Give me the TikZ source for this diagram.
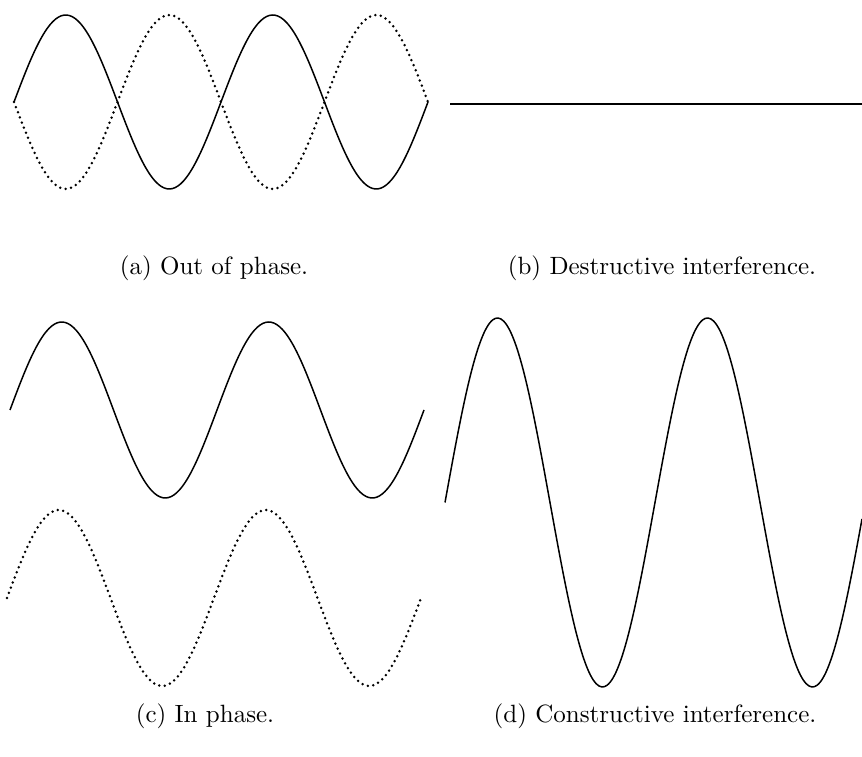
\documentclass[tikz,border=0pt]{standalone}
\usepackage{tikz}
\usetikzlibrary{positioning}

\begin{document}
\begin{tikzpicture}[
  x=0.4pt, y=-0.4pt,
  wave/.style={line width=0.6pt, smooth, samples=150},
  dotwave/.style={line width=1.1pt, dash pattern=on 0pt off 2.2pt, line cap=round, smooth, samples=150},
  caption/.style={font=\normalsize, inner sep=0pt}
]
  \useasboundingbox (0,0) rectangle (862,757);
  % (a) out of phase
  \draw[wave] plot[domain=14:428] (\x, {102-87*sin((\x-14)/207*360)});
  \draw[dotwave] plot[domain=14:428] (\x, {102+87*sin((\x-14)/207*360)});
  \node[caption] (capa) at (214,268) {(a) Out of phase.};
  % (b) destructive
  \draw[wave] (450,104) -- (862,104);
  \node[caption] (capb) at (662,268) {(b) Destructive interference.};
  % (c) in phase
  \draw[wave] plot[domain=10:424] (\x, {410-88*sin((\x-10)/207*360)});
  \draw[dotwave] plot[domain=7:421] (\x, {598-88*sin((\x-7)/207*360)});
  \node[caption] (capc) at (205,716) {(c) In phase.};
  % (d) constructive
  \draw[wave] plot[domain=445:862] (\x, {502.5-184.5*sin((\x-445)/210*360)});
  \node[caption] (capd) at (655,716) {(d) Constructive interference.};
\end{tikzpicture}
\end{document}
